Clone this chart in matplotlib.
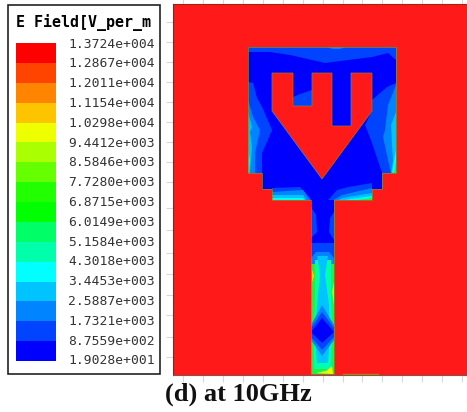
import matplotlib
matplotlib.use("Agg")
import matplotlib.pyplot as plt
from matplotlib.patches import Polygon, Rectangle

W, H = 467, 412

# legend
legend_title = "E Field[V_per_m"
legend_labels = ["1.3724e+004", "1.2867e+004", "1.2011e+004", "1.1154e+004", "1.0298e+004",
                 "9.4412e+003", "8.5846e+003", "7.7280e+003", "6.8715e+003", "6.0149e+003",
                 "5.1584e+003", "4.3018e+003", "3.4453e+003", "2.5887e+003", "1.7321e+003",
                 "8.7559e+002", "1.9028e+001"]
legend_colors = ["#ff0000", "#ff4400", "#ff8400", "#ffc400", "#eeff00", "#aaff00", "#66ff00", "#22ff00",
                 "#00ff00", "#00ff66", "#00ffaa", "#00ffff", "#00c4ff", "#0084ff", "#0044ff", "#0000ff"]
caption = "(d) at 10GHz"

RED, B0, B1, B2, B3, CY, G1, G2 = "#ff1919", "#0000ff", "#0044ff", "#0084ff", "#00c4ff", "#00ffee", "#00ffaa", "#22ee44"

# slot outline (image pixels)
gap = [(248, 47), (396, 47), (396, 173), (382, 173), (382, 189), (372, 189), (372, 200), (334, 200),
       (334, 374), (311, 374), (311, 200), (272, 200), (272, 189), (262, 189), (262, 173), (248, 173)]
patch = [(272, 73), (293, 73), (293, 106), (312, 106), (312, 73), (332, 73), (332, 126), (351, 126),
         (351, 73), (372, 73), (372, 111), (322, 179), (272, 111)]

# field contours, painted in order
bands = [
    (B1, [(248, 47), (396, 47), (396, 60), (388, 53), (372, 57), (348, 60), (325, 63), (290, 55), (270, 52), (248, 52)]),
    (B2, [(328, 47), (345, 47), (340, 49), (332, 49)]),
    (B1, [(293, 97), (300, 94), (312, 90), (312, 106), (293, 106)]),
    # left edge
    (B1, [(248, 82), (253, 83), (257, 98), (262, 107), (272, 130), (262, 153), (262, 173), (248, 173)]),
    (B2, [(248, 100), (253, 117), (260, 130), (255, 153), (255, 173), (248, 173)]),
    (B3, [(248, 112), (252, 127), (250, 132), (252, 147), (250, 173), (248, 173)]),
    (CY, [(248, 150), (250, 160), (249, 173), (248, 173)]),
    # right edge
    (B1, [(396, 83), (387, 87), (372, 100), (372, 111), (365, 125), (372, 143), (382, 173), (396, 173)]),
    (B2, [(396, 85), (388, 105), (385, 130), (383, 137), (388, 160), (391, 173), (396, 173)]),
    (B3, [(396, 112), (391, 125), (392, 145), (393, 160), (391, 173), (396, 173)]),
    (CY, [(396, 150), (394, 160), (392, 173), (396, 173)]),
    (G2, [(396, 162), (395, 167), (394, 173), (396, 173)]),
    # bottom left
    (B1, [(272, 188), (300, 187), (310, 198), (311, 200), (272, 200)]),
    (B2, [(272, 192), (303, 190), (310, 200), (272, 200)]),
    (B3, [(272, 195), (303, 195), (306, 200), (272, 200)]),
    (CY, [(272, 198), (303, 198), (304, 200), (272, 200)]),
    # bottom right
    (B1, [(372, 183), (348, 187), (337, 190), (328, 200), (372, 200)]),
    (B2, [(372, 188), (342, 195), (333, 200), (372, 200)]),
    (B3, [(372, 193), (342, 198), (338, 200), (372, 200)]),
    (CY, [(372, 196), (350, 199), (345, 200), (372, 200)]),
    (G2, [(372, 198), (358, 200), (372, 200)]),
    # feed line
    (B1, [(311, 207), (316, 215), (317, 232), (311, 238)]),
    (B1, [(334, 212), (330, 218), (329, 232), (334, 240)]),
    (B1, [(311, 243), (334, 243), (334, 262), (311, 262)]),
    (B2, [(311, 258), (316, 252), (329, 252), (334, 258), (334, 268), (311, 268)]),
    (G2, [(311, 264), (334, 264), (334, 374), (311, 374)]),
    (G1, [(315, 260), (331, 260), (331, 300), (332, 330), (331, 369), (314, 369), (314, 330), (315, 300)]),
    (B3, [(317, 256), (328, 256), (325, 275), (329, 305), (330, 335), (328, 363), (317, 363), (315, 335), (317, 305), (320, 275)]),
    (B2, [(322, 305), (334, 325), (334, 340), (322, 356), (311, 340), (311, 325)]),
    (B1, [(322, 312), (334, 328), (334, 337), (322, 350), (311, 337), (311, 328)]),
    (B0, [(322, 318), (334, 332), (322, 343), (311, 332)]),
    ("#ffdd00", [(312, 270), (314, 276), (312, 282)]),
    ("#aaff00", [(334, 282), (332, 292), (334, 305)]),
    ("#eeff00", [(316, 373), (326, 371), (332, 366), (333, 374)]),
]

x_ticks = [183, 203, 223, 243, 263, 283, 303, 323, 343, 362, 382, 402, 422, 442, 462]
y_ticks = [22, 42, 62, 82, 102, 122, 142, 162, 182, 208, 230, 253, 274, 295, 315, 337, 357]

fig = plt.figure(figsize=(W / 100, H / 100), dpi=100)

# page axes in image pixels, for legend and caption
ax = fig.add_axes([0, 0, 1, 1])
ax.set_xlim(0, W)
ax.set_ylim(H, 0)
ax.axis("off")

ax.add_patch(Rectangle((8, 4.5), 152, 369, fc="white", ec="#222222", lw=1.2))
ax.text(16, 22, legend_title, family="DejaVu Sans Mono", weight="bold", fontsize=10.8, va="center", ha="left")
band_h = 318 / len(legend_colors)
for i, c in enumerate(legend_colors):
    ax.add_patch(Rectangle((16, 43 + i * band_h), 40, band_h + 0.3, fc=c, ec="none"))
label_step = (361 - 44) / (len(legend_labels) - 1)
for i, s in enumerate(legend_labels):
    ax.text(68, 44 + i * label_step, s, family="DejaVu Sans Mono", fontsize=9.4, va="center", ha="left", color="#333333")
ax.text(238, 394.5, caption, family="Liberation Serif", weight="bold", fontsize=19, va="center", ha="center", color="#111111")

# field axes, same pixel numbers
fx = fig.add_axes([173 / W, 1 - 375 / H, (W - 173) / W, 371 / H])
fx.set_xlim(173, W)
fx.set_ylim(375, 4)
fx.set_facecolor(RED)
fx.set_xticks(x_ticks)
fx.set_yticks(y_ticks)
fx.tick_params(top=True, bottom=True, left=True, right=False, labelbottom=False, labelleft=False,
               color="#d8d8d8", length=5, width=0.8)
fx.spines["right"].set_visible(False)
fx.spines["left"].set_color("#8a2020")
fx.spines["top"].set_color("#a02020")
fx.spines["bottom"].set_color("#8a5050")

clip = Polygon(gap, closed=True, fc=B0, ec="none", zorder=1)
fx.add_patch(clip)
for c, pts in bands:
    p = Polygon(pts, closed=True, fc=c, ec="none", zorder=2)
    fx.add_patch(p)
    p.set_clip_path(clip)
fx.add_patch(Polygon(gap, closed=True, fc="none", ec="#7f8f30", lw=0.5, zorder=3))
fx.add_patch(Polygon(patch, closed=True, fc=RED, ec="#8f7f30", lw=0.5, zorder=4))
fx.plot([343, 378], [374, 374], color="#a08a10", lw=1, zorder=5)

fig.savefig("out.png", dpi=100)
